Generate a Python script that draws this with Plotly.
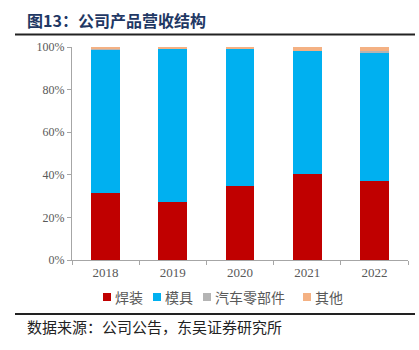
import plotly.graph_objects as go

years = ["2018", "2019", "2020", "2021", "2022"]
welding = [31.6, 27.4, 34.6, 40.5, 37.1]
molds = [67.4, 71.9, 64.6, 57.8, 59.9]
auto_parts = [0.1, 0.0, 0.0, 0.0, 1.0]
others = [0.9, 0.7, 0.8, 1.7, 2.0]

series = [
    ("焊装", welding, "#C00000"),
    ("模具", molds, "#00B0F0"),
    ("汽车零部件", auto_parts, "#B4B4B4"),
    ("其他", others, "#F4B183"),
]

W, H = 419, 350
L, R, T, B = 72, 408, 47, 260

def px(x):
    return (x - L) / (R - L)

def py(y):
    return (B - y) / (B - T)

fig = go.Figure()
for name, vals, col in series:
    fig.add_trace(go.Bar(x=years, y=vals, name=name, marker=dict(color=col, line=dict(width=0)),
                         showlegend=False))

serif = "Liberation Serif, Times New Roman, serif"
cjk = "Noto Sans CJK SC"

fig.update_layout(
    width=W, height=H,
    margin=dict(l=L, r=W - R, t=T, b=H - B),
    barmode="stack",
    bargap=0.573,
    plot_bgcolor="white", paper_bgcolor="white",
    xaxis=dict(showline=True, linecolor="#A6A6A6", linewidth=1, ticks="outside",
               tickson="boundaries", ticklen=4, tickcolor="#A6A6A6",
               tickfont=dict(family=serif, size=13, color="#595959"), showgrid=False),
    yaxis=dict(range=[0, 100], dtick=20, ticksuffix="%", showline=True, linecolor="#A6A6A6",
               linewidth=1, ticks="outside", ticklen=4, tickcolor="#A6A6A6", showgrid=False,
               zeroline=False, tickfont=dict(family=serif, size=12, color="#595959")),
)

shapes = []
annotations = []
# header / footer rules
for y in (34.5, 314):
    shapes.append(dict(type="line", xref="paper", yref="paper", x0=px(15), x1=px(415),
                       y0=py(y), y1=py(y), line=dict(color="#222222", width=2)))

annotations.append(dict(text="<b>图13：公司产品营收结构</b>", xref="paper", yref="paper",
                        x=px(25), y=py(20), xanchor="left", yanchor="middle", showarrow=False,
                        font=dict(family=cjk, size=16, color="#1F3864")))
annotations.append(dict(text="数据来源：公司公告，东吴证券研究所", xref="paper", yref="paper",
                        x=px(25), y=py(326), xanchor="left", yanchor="middle", showarrow=False,
                        font=dict(family=cjk, size=15, color="#222222")))

# legend
leg_x = [103, 153, 203, 303]
for (name, vals, col), lx in zip(series, leg_x):
    shapes.append(dict(type="rect", xref="paper", yref="paper", x0=px(lx), x1=px(lx + 8),
                       y0=py(301), y1=py(293), fillcolor=col, line=dict(width=0)))
    annotations.append(dict(text=name, xref="paper", yref="paper", x=px(lx + 9.5), y=py(297),
                            xanchor="left", yanchor="middle", showarrow=False,
                            font=dict(family=cjk, size=14, color="#595959")))

fig.update_layout(shapes=shapes, annotations=annotations)
fig.write_html("out.html")
